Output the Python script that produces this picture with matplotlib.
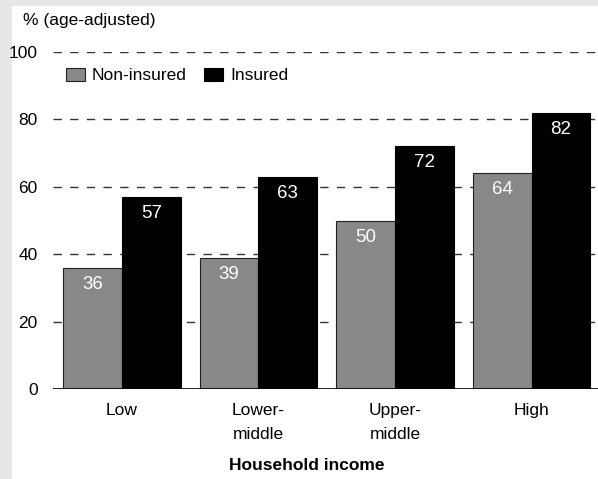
import matplotlib
matplotlib.use("Agg")
import matplotlib.pyplot as plt
import numpy as np
from matplotlib.patches import Rectangle
from matplotlib import font_manager as fm

names = {f.name for f in fm.fontManager.ttflist}
narrow = 'Liberation Sans Narrow' if 'Liberation Sans Narrow' in names else 'Liberation Sans'
plt.rcParams['font.family'] = [narrow, 'DejaVu Sans']

categories = ["Low", "Lower-\nmiddle", "Upper-\nmiddle", "High"]
non_insured = [36, 39, 50, 64]
insured = [57, 63, 72, 82]
series_names = ["Non-insured", "Insured"]
yticks = [0, 20, 40, 60, 80, 100]

fig = plt.figure(figsize=(5.98, 4.79), dpi=100)
fig.patch.set_facecolor('#e6e7e8')
fig.patches.append(Rectangle((12/598, 0), 1, 1 - 6/479, transform=fig.transFigure,
                             facecolor='white', edgecolor='none', zorder=-10))

ax = fig.add_axes([53/598, 1 - 389/479, 545/598, (389 - 52)/479])
ax.set_facecolor('none')
x = np.arange(len(categories))
w = 0.43
b1 = ax.bar(x - w/2, non_insured, w, color='#888888', edgecolor='#222222', linewidth=0.8, zorder=3, label=series_names[0])
b2 = ax.bar(x + w/2, insured, w, color='black', edgecolor='black', linewidth=0.8, zorder=3, label=series_names[1])

for bars, vals in ((b1, non_insured), (b2, insured)):
    for r, v in zip(bars, vals):
        ax.text(r.get_x() + r.get_width()/2, v - 2.4, str(v), ha='center', va='top',
                color='white', fontsize=13.5, zorder=4)

ax.set_xlim(-0.505, 3.487)
ax.set_ylim(0, 100)
ax.set_yticks(yticks)
for t in yticks[1:]:
    ax.axhline(t, color='#333333', linestyle=(0, (6, 6)), linewidth=1, zorder=1)
ax.axhline(0, color='black', linewidth=1.2, zorder=5)
for s in ax.spines.values():
    s.set_visible(False)
ax.tick_params(axis='y', length=0, pad=11, labelsize=12.5)
ax.tick_params(axis='x', length=0, pad=10, labelsize=12.5)
ax.set_xticks(x)
ax.set_xticklabels(categories, linespacing=1.75)

fig.text(23/598, 1 - 20/479, "% (age-adjusted)", fontsize=12.5, va='center', ha='left')
fig.text(307/598, 1 - 466/479, "Household income", fontsize=12.5, fontweight='bold', va='center', ha='center')

leg = ax.legend(loc='upper left', bbox_to_anchor=(-0.005, 1.0), ncol=2, frameon=False,
                fontsize=12.5, handlelength=1.1, handleheight=0.8, handletextpad=0.4,
                columnspacing=1.0)

fig.savefig("out.png", dpi=100, facecolor=fig.get_facecolor())
